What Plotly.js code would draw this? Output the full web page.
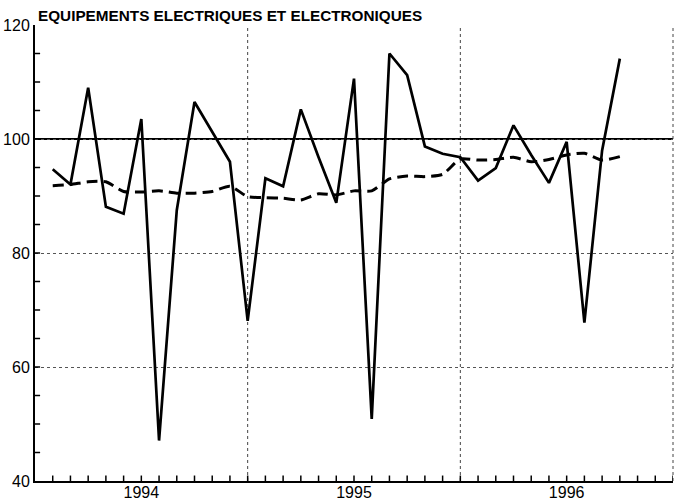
<!DOCTYPE html>
<html>
<head>
<meta charset="utf-8">
<script src="https://cdn.plot.ly/plotly-3.0.1.min.js"></script>
<style>html,body{margin:0;padding:0;background:#fff;}#chart{width:675px;height:504px;}</style>
</head>
<body>
<div id="chart"></div>
<script>
// Month index: 0 = start of 1994, 12 = start of 1995, 24 = start of 1996, 36 = end of 1996
const months = [1,2,3,4,5,6,7,8,9,10,11,12,13,14,15,16,17,18,19,20,21,22,23,24,25,26,27,28,29,30,31,32,33];
const rawSeries = [94.7,92.0,109.0,88.1,86.9,103.5,47.1,87.5,106.5,101.3,96.0,68.1,93.1,91.7,105.2,96.8,88.8,110.6,50.9,115.0,111.2,98.7,97.4,96.8,92.7,94.9,102.4,97.2,92.3,99.5,67.8,98.0,114.1];
const trendSeries = [91.8,92.0,92.5,92.5,90.8,90.7,90.9,90.5,90.5,90.8,91.7,89.9,89.7,89.6,89.3,90.4,90.2,90.9,90.9,93.0,93.5,93.4,93.8,96.5,96.3,96.4,96.8,96.0,96.4,97.2,97.5,96.3,96.9];
const yearTickPos = [6,18,30];
const yearLabels = ['1994','1995','1996'];
const monthTicks = Array.from({length:36}, (_, k) => k + 1);
const yTicks = [40,60,80,100,120];
const yMinorTicks = Array.from({length:15}, (_, k) => 45 + 5*k);
const yearBounds = [12,24];
const chartTitle = 'EQUIPEMENTS ELECTRIQUES ET ELECTRONIQUES';

const traces = [
  {x: months, y: trendSeries, type:'scatter', mode:'lines',
   line:{color:'#000', width:3, dash:'11px,6px', shape:'spline', smoothing:0.6}, hoverinfo:'skip'},
  {x: months, y: rawSeries, type:'scatter', mode:'lines',
   line:{color:'#000', width:2.7}, hoverinfo:'skip'}
];

const shapes = [];
yearBounds.forEach(v => shapes.push({type:'line', xref:'x', yref:'paper', x0:v, x1:v, y0:0, y1:1,
  line:{color:'#444', width:1, dash:'dot'}, layer:'below'}));
shapes.push({type:'line', xref:'paper', yref:'paper', x0:1, x1:1, y0:0, y1:1, line:{color:'#444', width:1, dash:'dot'}});
shapes.push({type:'line', xref:'paper', yref:'y', x0:0, x1:1, y0:100, y1:100, line:{color:'#000', width:2}, layer:'below'});
// inside tick marks: one per month on the bottom axis, every 5 units on the left axis
monthTicks.forEach(v => shapes.push({type:'line', xref:'x', yref:'paper',
  x0:v, x1:v, y0:0, y1:0.012, line:{color:'#000', width:1.5}}));
yMinorTicks.forEach(v => shapes.push({type:'line', xref:'paper', yref:'y',
  x0:0, x1:0.008, y0:v, y1:v, line:{color:'#000', width:1.5}}));

const layout = {
  width:675, height:504,
  margin:{l:35, r:2, t:25, b:23},
  paper_bgcolor:'#fff', plot_bgcolor:'#fff',
  showlegend:false,
  font:{family:'"Liberation Sans", Arial, sans-serif', color:'#000', size:16},
  annotations:[{text:chartTitle, xref:'paper', yref:'paper', x:0.002, y:1,
                xanchor:'left', yanchor:'bottom', align:'left', yshift:-1, showarrow:false,
                font:{size:15.3, color:'#000', weight:'bold'}}],
  xaxis:{range:[0,36], tickmode:'array', tickvals:yearTickPos, ticktext:yearLabels,
         ticks:'', ticklabelstandoff:-4, showgrid:false, zeroline:false, showline:true,
         linecolor:'#000', linewidth:2, tickfont:{size:16}, fixedrange:true},
  yaxis:{range:[40,120], tickmode:'array', tickvals:yTicks, ticks:'', showgrid:true,
         gridcolor:'#555', gridwidth:1, griddash:'dot', zeroline:false, showline:true,
         linecolor:'#000', linewidth:2, tickfont:{size:16}, fixedrange:true},
  shapes: shapes
};

Plotly.newPlot('chart', traces, layout, {staticPlot:true, displayModeBar:false});
</script>
</body>
</html>
